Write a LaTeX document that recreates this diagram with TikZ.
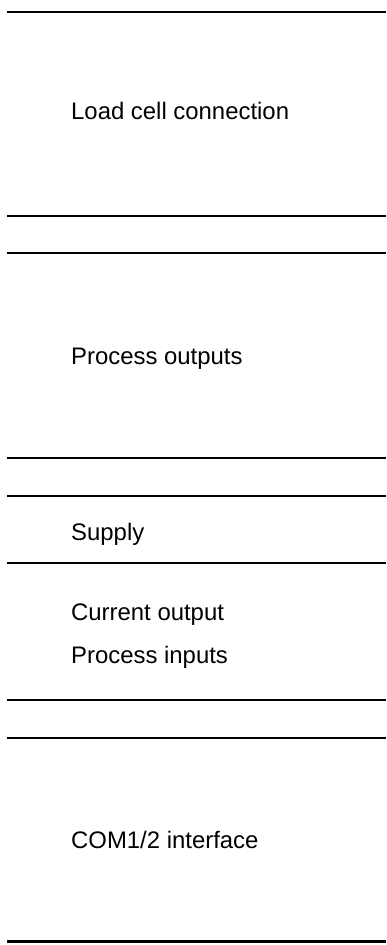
\documentclass[tikz,border=0pt]{standalone}
\usepackage{fontspec}
\setmainfont{Liberation Sans}
\begin{document}
\begin{tikzpicture}[x=1pt,y=-1pt,
  sep/.style={line width=2.9pt,black},
  lbl/.style={anchor=base west,inner sep=0pt,font=\fontsize{23.9}{28}\selectfont}]
\useasboundingbox (0,0) rectangle (386,945);
\foreach \yy in {12,216,253,458,496,563,700,738,941.5}
  \draw[sep] (7,\yy) -- (386,\yy);
\node[lbl] (load) at (71,119.5) {Load cell connection};
\node[lbl] (pout) at (71,364) {Process outputs};
\node[lbl] (supply) at (71,540) {Supply};
\node[lbl] (cur) at (71,620) {Current output};
\node[lbl] (pin) at (71,663) {Process inputs};
\node[lbl] (com) at (71,848) {COM1/2 interface};
\end{tikzpicture}
\end{document}
